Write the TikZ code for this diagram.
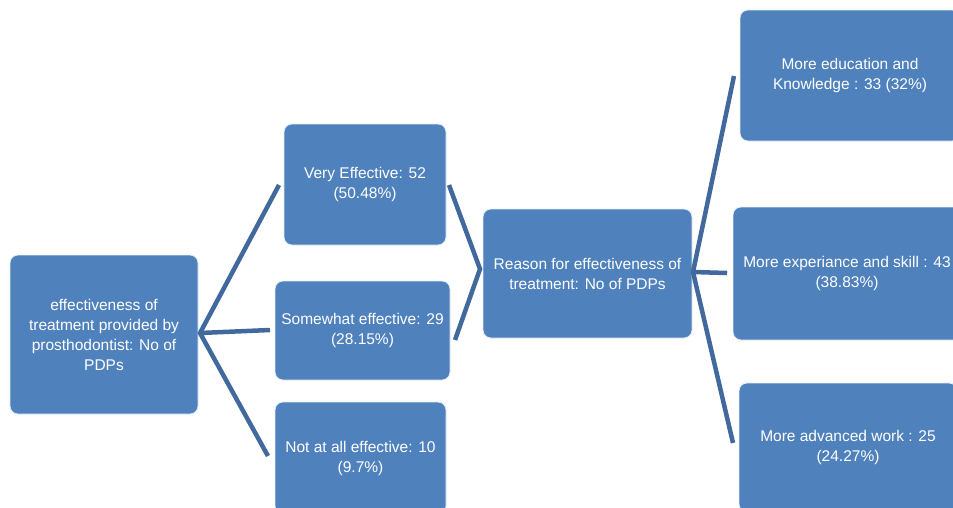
\documentclass[tikz,border=0pt]{standalone}
\usepackage{fontspec}
\setmainfont{Liberation Sans}
\definecolor{boxblue}{HTML}{4F81BD}
\definecolor{lineblue}{HTML}{41699E}
\begin{document}
\begin{tikzpicture}[x=1pt,y=-1pt,
  box/.style={draw=white!85!boxblue, line width=0.8pt, fill=boxblue, rounded corners=8pt,
    text=white, align=center, inner sep=0pt,
    font=\fontsize{15.5}{20}\selectfont},
  conn/.style={draw=lineblue, line width=4.5pt}]
\useasboundingbox (0,0) rectangle (953,507);
\clip (0,0) rectangle (953,507);
% nodes
\node[box, minimum width=188pt, minimum height=159pt] (root) at (104,334.5)
  {effectiveness of\\treatment provided by\\prosthodontist: No of\\PDPs};
\node[box, minimum width=162pt, minimum height=121pt] (ve) at (365,184.5)
  {Very Effective: 52\\(50.48\%)};
\node[box, minimum width=175pt, minimum height=99pt] (sw) at (362.5,330.5)
  {Somewhat effective: 29\\(28.15\%)};
\node[box, minimum width=171pt, minimum height=112pt] (na) at (360.5,458)
  {Not at all effective: 10\\(9.7\%)};
\node[box, minimum width=209pt, minimum height=129pt] (reason) at (587.5,273.5)
  {Reason for effectiveness of\\treatment: No of PDPs};
\node[box, minimum width=220pt, minimum height=131pt] (edu) at (850,75.5)
  {More education and\\Knowledge : 33 (32\%)};
\node[box, minimum width=228pt, minimum height=133pt] (exp) at (847,273.5)
  {More experiance and skill : 43\\(38.83\%)};
\node[box, minimum width=218pt, minimum height=129pt] (adv) at (848,447.5)
  {More advanced work : 25\\(24.27\%)};
% connector end points
\coordinate (hubA) at (200,333);
\coordinate (veIn) at (279,185);
\coordinate (swIn) at (270,330);
\coordinate (naIn) at (268,456);
\coordinate (veOut) at (449,185);
\coordinate (swOut) at (455,340);
\coordinate (hubB) at (480,269);
\coordinate (hubC) at (693,272);
\coordinate (eduIn) at (734,76);
\coordinate (expIn) at (727,273);
\coordinate (advIn) at (733,443);
% connectors
\draw[conn] (veIn) -- (hubA) -- (naIn);
\draw[conn] (hubA) -- (swIn);
\draw[conn] (veOut) -- (hubB) -- (swOut);
\draw[conn] (eduIn) -- (hubC) -- (advIn);
\draw[conn] (hubC) -- (expIn);
\end{tikzpicture}
\end{document}
